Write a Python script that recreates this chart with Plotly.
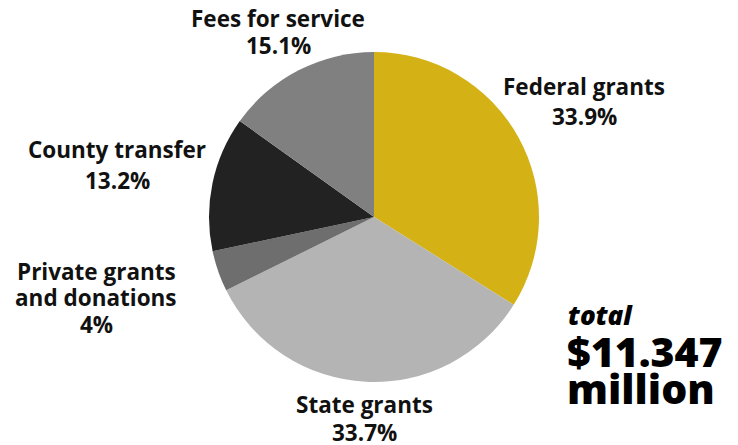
import plotly.graph_objects as go

categories = ["Federal grants", "State grants", "Private grants and donations", "County transfer", "Fees for service"]
values = [33.9, 33.7, 4.0, 13.2, 15.1]
pct_labels = ["33.9%", "33.7%", "4%", "13.2%", "15.1%"]
name_lines = [["Federal grants"], ["State grants"], ["Private grants", "and donations"],
              ["County transfer"], ["Fees for service"]]
colors = ["#D4B216", "#B4B4B4", "#6E6E6E", "#222222", "#808080"]
total_label = "total"
total_value = ["$11.347", "million"]

W, H = 738, 445


def px(x):
    return x / W


def py(y):
    return 1 - y / H


cx, cy, r = 374, 217, 165
fig = go.Figure(go.Pie(
    labels=categories, values=values, sort=False, direction="clockwise", rotation=0,
    marker=dict(colors=colors, line=dict(width=0)),
    textinfo="none", hoverinfo="label+value", showlegend=False,
    domain=dict(x=[px(cx - r), px(cx + r)], y=[py(cy + r), py(cy - r)]),
))

font = dict(family="Open Sans, Noto Sans, sans-serif", size=22.5, color="#111111", weight="bold")
# pixel line centres for each label block (name lines..., percent)
label_pos = [
    (584, [86, 116]),
    (364, [404, 432]),
    (96, [271, 297, 324]),
    (117, [149, 180]),
    (278, [18, 45]),
]
for names, pct, (x, ys) in zip(name_lines, pct_labels, label_pos):
    for t, y in zip(names + [pct], ys):
        fig.add_annotation(x=px(x), y=py(y), xref="paper", yref="paper", text=t, showarrow=False,
                           font=font, xanchor="center", yanchor="middle")

fig.add_annotation(x=px(566), y=py(315), xref="paper", yref="paper", text="<i>" + total_label + "</i>",
                   showarrow=False, font=dict(family="Open Sans, sans-serif", size=26, color="#000", weight=800),
                   xanchor="left", yanchor="middle")
for t, y in zip(total_value, [351, 388]):
    fig.add_annotation(x=px(565), y=py(y), xref="paper", yref="paper", text=t, showarrow=False,
                       font=dict(family="Open Sans, sans-serif", size=41, color="#000", weight=800),
                       xanchor="left", yanchor="middle")

fig.update_layout(width=W, height=H, margin=dict(l=0, r=0, t=0, b=0),
                  paper_bgcolor="white", plot_bgcolor="white")
fig.write_html("out.html", config={"displayModeBar": False},
               post_script="document.body.style.margin='0';")
